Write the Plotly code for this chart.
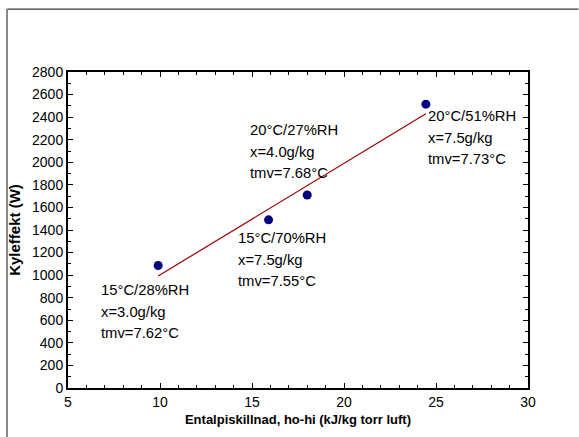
import numpy as np
import plotly.graph_objects as go

# Data
enthalpy_diff = [9.9, 15.9, 18.0, 24.45]          # kJ/kg torr luft
cooling_power = [1085, 1490, 1710, 2515]          # W

label_lines = [
    ["15°C/28%RH", "x=3.0g/kg", "tmv=7.62°C"],
    ["15°C/70%RH", "x=7.5g/kg", "tmv=7.55°C"],
    ["20°C/27%RH", "x=4.0g/kg", "tmv=7.68°C"],
    ["20°C/51%RH", "x=7.5g/kg", "tmv=7.73°C"],
]
label_x = [6.70, 14.12, 14.80, 24.45]
label_y = [868, 1326, 2286, 2410]

x_ticks = [5, 10, 15, 20, 25, 30]
y_ticks = list(range(0, 2801, 200))

# Linear trend line fitted to the data
slope, intercept = np.polyfit(enthalpy_diff, cooling_power, 1)
fit_x = np.array([min(enthalpy_diff), max(enthalpy_diff)])
fit_y = slope * fit_x + intercept

FONT = "Liberation Sans, Arial, sans-serif"

fig = go.Figure()
fig.add_trace(go.Scatter(x=fit_x, y=fit_y, mode="lines",
                         line=dict(color="#990000", width=1.2),
                         hoverinfo="skip", showlegend=False))
fig.add_trace(go.Scatter(x=enthalpy_diff, y=cooling_power, mode="markers",
                         marker=dict(color="#000080", size=9),
                         showlegend=False))

line_gap = 21.5
for lines, lx, ly in zip(label_lines, label_x, label_y):
    for i, t in enumerate(lines):
        fig.add_annotation(x=lx, y=ly, text=t, showarrow=False,
                           xanchor="left", yanchor="middle",
                           yshift=-i * line_gap,
                           font=dict(family=FONT, size=14.8, color="#000000"))

axis_common = dict(showline=True, linecolor="#000000", linewidth=2,
                   mirror="ticks", ticks="inside", ticklen=5, tickwidth=1,
                   tickcolor="#000000", showgrid=False, zeroline=False,
                   tickfont=dict(family=FONT, size=14, color="#000000"))

fig.update_xaxes(range=[5, 30], tickvals=x_ticks,
                 minor=dict(dtick=1, ticks="inside", ticklen=3, tickcolor="#000000"),
                 title=dict(text="<b>Entalpiskillnad, ho-hi (kJ/kg torr luft)</b>",
                            font=dict(family=FONT, size=13, color="#000000"),
                            standoff=6),
                 **axis_common)
fig.update_yaxes(range=[0, 2800], tickvals=y_ticks,
                 minor=dict(dtick=100, ticks="inside", ticklen=3, tickcolor="#000000"),
                 title=dict(text="<b>Kyleffekt (W)</b>",
                            font=dict(family=FONT, size=15, color="#000000"),
                            standoff=8),
                 **axis_common)

# Outer frame lines (top and left) of the original figure
fig.add_shape(type="line", xref="paper", yref="paper",
              x0=-0.1326, x1=1.11, y0=1.199, y1=1.199,
              line=dict(color="#000000", width=1))
fig.add_shape(type="line", xref="paper", yref="paper",
              x0=-0.1326, x1=-0.1326, y0=1.199, y1=-0.16,
              line=dict(color="#888888", width=2))

fig.update_layout(width=579, height=437,
                  margin=dict(l=68, r=51, t=72, b=49, autoexpand=False),
                  plot_bgcolor="#ffffff", paper_bgcolor="#ffffff",
                  font=dict(family=FONT, color="#000000"))

fig.write_html("out.html", config={"displayModeBar": False},
               post_script="document.body.style.margin='0px';document.body.style.padding='0px';")
